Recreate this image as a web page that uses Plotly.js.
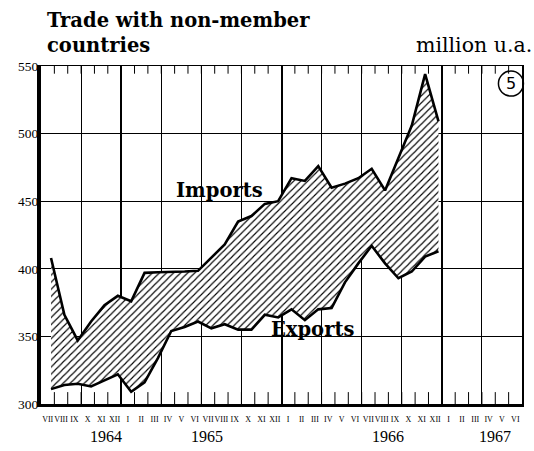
<!DOCTYPE html>
<html><head><meta charset="utf-8">
<script src="https://cdn.plot.ly/plotly-3.0.1.min.js"></script>
<style>body{margin:0;background:#fff}#chart{width:534px;height:451px}</style>
</head><body><div id="chart"></div>
<script>
const monthLabels = ['VII','VIII','IX','X','XI','XII','I','II','III','IV','V','VI',
  'VII','VIII','IX','X','XI','XII','I','II','III','IV','V','VI',
  'VII','VIII','IX','X','XI','XII','I','II','III','IV','V','VI'];
const yearLabels = ['1964','1965','1966','1967'];
const yTicks = [300,350,400,450,500,550];
// monthly values, VII 1964 .. XII 1966 (million u.a.)
const imports = [408,366,347,361,373,380,376,397,397.5,397.5,398,398.5,408,418,435,
  439,448,450,467,465,476,460,463,467,474,458,482,506,544,509];
const exportsVals = [311,314,315,313,317.5,322,309,316,334,354,357,361,356,359,355,
  355,366,364,370,362,370,371,390,404,417,404,393,398,409,413];

const xData = imports.map((_, i) => i + 0.75);
const xCenters = monthLabels.map((_, i) => i + 0.5);
const monthEdges = monthLabels.map((_, i) => i).slice(1);
const yMin = yTicks[0], yMax = yTicks[yTicks.length - 1];
const yearPos = [4.9, 12.4, 26.0, 34.0];
const serif = 'Liberation Serif, Times New Roman, serif';
const dserif = 'DejaVu Serif, serif';

const tickMarks = (yv, sz) => ({x: monthEdges, y: monthEdges.map(() => yv), mode: 'markers',
  marker: {symbol: 'line-ns', size: sz, color: '#000', line: {color: '#000', width: 1}},
  cliponaxis: true, showlegend: false, hoverinfo: 'skip'});

const traces = [
  {x: xData, y: exportsVals, mode: 'lines', line: {color: '#000', width: 2.6},
   showlegend: false, hoverinfo: 'skip'},
  {x: xData, y: imports, mode: 'lines', line: {color: '#000', width: 2.6},
   fill: 'tonexty', fillcolor: 'white',
   fillpattern: {shape: '/', fgcolor: '#000', bgcolor: '#fff', size: 5, solidity: 0.22},
   showlegend: false, hoverinfo: 'skip'},
  tickMarks(yMax, 11),
  tickMarks(yMin, 17)
].concat(['x2','x3','x4'].map(a => ({x: [], y: [], xaxis: a, yaxis: 'y2', showlegend: false})));

const gridAxis = (tick0, dtick, w) => ({overlaying: 'x', anchor: 'y2', range: [0, 36],
  tickmode: 'linear', tick0: tick0, dtick: dtick, ticks: '', showticklabels: false,
  showgrid: true, gridcolor: '#000', gridwidth: w, zeroline: false, showline: false});

const layout = {
  width: 534, height: 451,
  margin: {l: 41, r: 12, t: 66, b: 47},
  paper_bgcolor: '#fff', plot_bgcolor: '#fff',
  showlegend: false,
  xaxis: {range: [0, 36], showticklabels: false, ticks: '', showgrid: false,
    zeroline: false, showline: false, fixedrange: true},
  // month labels + heavy bottom line
  xaxis2: {overlaying: 'x', side: 'bottom', anchor: 'y2', range: [0, 36],
    tickmode: 'array', tickvals: xCenters, ticktext: monthLabels,
    ticks: '', tickangle: 0, tickfont: {family: serif, size: 8, color: '#000'},
    ticklabelstandoff: 5, showgrid: false, zeroline: false,
    showline: true, linewidth: 3, linecolor: '#000'},
  // quarterly grid + top frame line
  xaxis3: Object.assign(gridAxis(0, 3, 1), {side: 'top', showline: true, linewidth: 1.5, linecolor: '#000'}),
  // year boundaries
  xaxis4: gridAxis(6, 12, 2),
  yaxis: {range: [yMin, yMax], tickmode: 'array', tickvals: yTicks, ticks: '',
    tickfont: {family: serif, size: 13.5, color: '#000'}, ticklabelstandoff: -4,
    showgrid: true, gridcolor: '#000', gridwidth: 1, zeroline: false,
    showline: true, linewidth: 4, linecolor: '#000', fixedrange: true},
  yaxis2: {overlaying: 'y', side: 'right', range: [yMin, yMax], showgrid: false,
    showticklabels: false, ticks: '', zeroline: false,
    showline: true, linewidth: 1.5, linecolor: '#000'},
  shapes: [
    {type: 'circle', xref: 'paper', yref: 'paper', xsizemode: 'pixel', ysizemode: 'pixel',
     xanchor: 0.977, yanchor: 0.948, x0: -12.5, x1: 12.5, y0: -12.5, y1: 12.5,
     line: {color: '#000', width: 1.5}, layer: 'above'}
  ],
  annotations: [
    {text: '<b>Trade with non-member<br>countries</b>', xref: 'paper', yref: 'paper',
     x: 0.008, y: 1.176, xanchor: 'left', yanchor: 'top', align: 'left', showarrow: false,
     font: {family: dserif, size: 19.5, color: '#000'}},
    {text: '<b>Imports</b>', x: 13.35, y: 458, xref: 'x', yref: 'y', showarrow: false,
     xanchor: 'center', yanchor: 'middle',
     font: {family: dserif, size: 19.5, color: '#000'}},
    {text: '<b>Exports</b>', x: 20.3, y: 355, xref: 'x', yref: 'y', showarrow: false,
     xanchor: 'center', yanchor: 'middle',
     font: {family: dserif, size: 19.5, color: '#000'}},
    {text: 'million u.a.', xref: 'paper', yref: 'paper', x: 1.024, y: 1.062,
     xanchor: 'right', yanchor: 'middle', showarrow: false,
     font: {family: dserif, size: 20.5, color: '#000'}},
    {text: '5', xref: 'paper', yref: 'paper', x: 0.977, y: 0.948, showarrow: false,
     xanchor: 'center', yanchor: 'middle',
     font: {family: 'DejaVu Sans, sans-serif', size: 16, color: '#000'}}
  ].concat(yearLabels.map((t, k) => ({
    text: t, xref: 'x', yref: 'paper', x: yearPos[k], y: -0.096,
    xanchor: 'center', yanchor: 'middle',
    showarrow: false, font: {family: serif, size: 16, color: '#000'}
  })))
};

Plotly.newPlot('chart', traces, layout, {staticPlot: true, displayModeBar: false});
</script>
</body></html>
